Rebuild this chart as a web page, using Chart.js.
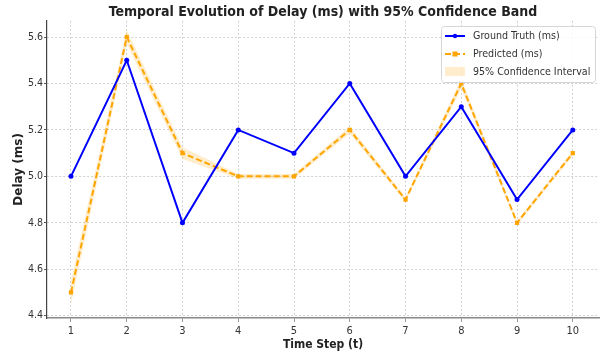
<!DOCTYPE html>
<html lang="en">
<head>
<meta charset="UTF-8">
<title>Temporal Evolution of Delay</title>
<script src="https://cdn.jsdelivr.net/npm/chart.js"></script>
<style>
  html, body { margin: 0; padding: 0; background: #fff; }
  #wrap { width: 603px; height: 356px; position: relative; }
</style>
</head>
<body>
<div id="wrap"><canvas id="chart"></canvas></div>
<script>
// data
const timeSteps = [1, 2, 3, 4, 5, 6, 7, 8, 9, 10];
const groundTruth = [5.0, 5.5, 4.8, 5.2, 5.1, 5.4, 5.0, 5.3, 4.9, 5.2];
const predicted = [4.5, 5.6, 5.1, 5.0, 5.0, 5.2, 4.9, 5.4, 4.8, 5.1];
const ciUpper = [4.55, 5.63, 5.125, 5.01, 5.01, 5.215, 4.91, 5.42, 4.81, 5.11];
const ciLower = [4.45, 5.57, 5.075, 4.99, 4.99, 5.185, 4.89, 5.38, 4.79, 5.09];
const yTicks = [4.4, 4.6, 4.8, 5.0, 5.2, 5.4, 5.6];

const FONT = "'DejaVu Sans Condensed', 'DejaVu Sans', sans-serif";

function pts(ys) {
  return timeSteps.map((t, i) => ({ x: t, y: ys[i] }));
}

// legend drawn in matplotlib style (frame, line + marker samples)
const boxLegend = {
  id: 'boxLegend',
  afterDatasetsDraw(chart) {
    const ctx = chart.ctx;
    const x0 = 441, y0 = 26, w = 154, h = 56;
    ctx.save();
    ctx.fillStyle = 'rgba(255,255,255,0.85)';
    ctx.strokeStyle = '#d6d6d6';
    ctx.lineWidth = 1;
    ctx.beginPath();
    ctx.roundRect(x0 + 0.5, y0 + 0.5, w, h, 3);
    ctx.fill();
    ctx.stroke();

    const items = chart.data.datasets.filter(d => d.legend);
    ctx.font = '10.6px ' + FONT;
    ctx.textBaseline = 'middle';
    items.forEach((d, i) => {
      const cy = y0 + 10 + i * 18;
      const sx = x0 + 4, ex = x0 + 24;
      if (d.legend === 'band') {
        ctx.fillStyle = d.backgroundColor;
        ctx.fillRect(sx, cy - 5, ex - sx, 9);
      } else {
        ctx.strokeStyle = d.borderColor;
        ctx.lineWidth = 2;
        ctx.setLineDash(d.borderDash || []);
        ctx.beginPath();
        ctx.moveTo(sx, cy);
        ctx.lineTo(ex, cy);
        ctx.stroke();
        ctx.setLineDash([]);
        ctx.fillStyle = d.borderColor;
        const mx = (sx + ex) / 2;
        if (d.pointStyle === 'rect') {
          ctx.fillRect(mx - 2.5, cy - 2.5, 5, 5);
        } else {
          ctx.beginPath();
          ctx.arc(mx, cy, 2.2, 0, Math.PI * 2);
          ctx.fill();
        }
      }
      ctx.fillStyle = '#333';
      ctx.fillText(d.label, x0 + 32, cy + 0.5);
    });
    ctx.restore();
  }
};

new Chart(document.getElementById('chart'), {
  type: 'line',
  data: {
    datasets: [
      {
        label: 'Ground Truth (ms)',
        legend: 'line',
        data: pts(groundTruth),
        borderColor: '#0000ff',
        backgroundColor: '#0000ff',
        borderWidth: 2,
        pointStyle: 'circle',
        pointRadius: 2.5,
        pointBorderWidth: 0,
        tension: 0,
        order: 1
      },
      {
        label: 'Predicted (ms)',
        legend: 'line',
        data: pts(predicted),
        borderColor: '#ffa500',
        backgroundColor: '#ffa500',
        borderWidth: 2,
        borderDash: [6, 3],
        pointStyle: 'rect',
        pointRadius: 3,
        pointBorderWidth: 0,
        tension: 0,
        order: 2
      },
      {
        label: '95% Confidence Interval',
        legend: 'band',
        data: pts(ciUpper),
        borderWidth: 0,
        borderColor: 'rgba(0,0,0,0)',
        backgroundColor: 'rgba(255,165,0,0.2)',
        pointRadius: 0,
        fill: '+1',
        tension: 0,
        order: 3
      },
      {
        label: 'ci-lower',
        data: pts(ciLower),
        borderWidth: 0,
        borderColor: 'rgba(0,0,0,0)',
        pointRadius: 0,
        fill: false,
        tension: 0,
        order: 4
      }
    ]
  },
  options: {
    responsive: true,
    maintainAspectRatio: false,
    animation: false,
    layout: { padding: { left: 0, right: 1, top: 0, bottom: 0 } },
    plugins: {
      legend: { display: false },
      tooltip: { enabled: false },
      title: {
        display: true,
        fullSize: false,
        text: 'Temporal Evolution of Delay (ms) with 95% Confidence Band',
        color: '#222',
        font: { family: FONT, size: 14, weight: 'bold' },
        padding: { top: 4, bottom: 0 }
      }
    },
    scales: {
      x: {
        type: 'linear',
        min: 0.57,
        max: 10.47,
        afterBuildTicks: s => { s.ticks = timeSteps.map(v => ({ value: v })); },
        afterFit: s => { s.height = 38; },
        ticks: { color: '#333', font: { family: FONT, size: 11 }, padding: 3 },
        grid: { color: '#d0d0d0', tickLength: 4, tickColor: '#999' },
        border: { color: '#888', width: 1.5, dash: [2, 2] },
        title: {
          display: true,
          text: 'Time Step (t)',
          color: '#222',
          font: { family: FONT, size: 12, weight: 'bold' },
          padding: { top: 0 }
        }
      },
      y: {
        min: 4.39,
        max: 5.67,
        afterBuildTicks: s => { s.ticks = yTicks.map(v => ({ value: v })); },
        afterFit: s => { s.width = 47; },
        ticks: {
          color: '#333',
          font: { family: FONT, size: 10.5 },
          padding: 1,
          callback: v => v.toFixed(1)
        },
        grid: { color: '#d0d0d0', tickLength: 3, tickColor: '#555' },
        border: { color: '#444', width: 1.2, dash: [2, 2] },
        title: {
          display: true,
          text: 'Delay (ms)',
          color: '#222',
          font: { family: "'DejaVu Sans', sans-serif", size: 12, weight: 'bold' },
          padding: { top: 12, bottom: 0 }
        }
      }
    }
  },
  plugins: [boxLegend]
});
</script>
</body>
</html>
